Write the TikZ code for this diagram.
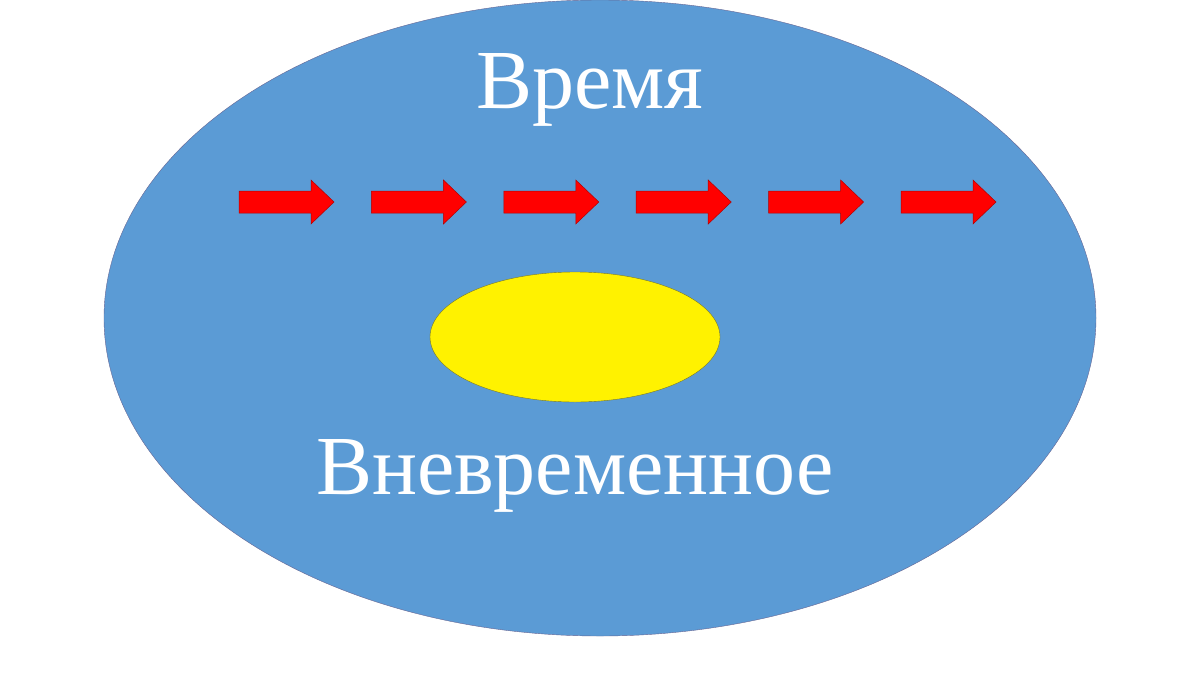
\documentclass[tikz,border=0pt]{standalone}
\usepackage{fontspec}
\setmainfont{Liberation Serif}
\usetikzlibrary{shapes.geometric}
\begin{document}
\begin{tikzpicture}[x=1pt,y=-1pt,
  redarrow/.style={fill=red,draw=red!70!black,line width=0.5pt},
  lbl/.style={text=white,font=\fontsize{84}{90}\selectfont,inner sep=0pt}]
\useasboundingbox (0,0) rectangle (1200,675);
\fill[white] (0,0) rectangle (1200,675);
\node[ellipse,draw=blue!30!black!60,fill={rgb,255:red,91;green,155;blue,213},minimum width=992pt,minimum height=636pt,inner sep=0pt] (outer) at (600,318) {};
\node[ellipse,draw={rgb,255:red,120;green,120;blue,40},fill=yellow,minimum width=290pt,minimum height=130pt,inner sep=0pt] (inner) at (575,337) {};
\node[lbl] (t1) at (590,90) {Время};
\node[lbl] (t2) at (575,476) {Вневременное};
\foreach \i in {0,...,5}{
  \pgfmathsetmacro\xs{239+132.4*\i}
  \draw[redarrow] (\xs,191) -- (\xs+72,191) -- (\xs+72,180) -- (\xs+95,202) -- (\xs+72,224) -- (\xs+72,213) -- (\xs,213) -- cycle;
}
\end{tikzpicture}
\end{document}
